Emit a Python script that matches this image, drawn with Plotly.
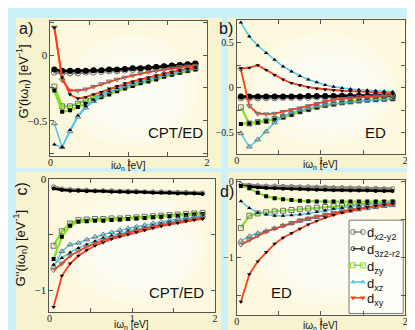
import plotly.graph_objects as go

# Matsubara frequencies [eV]
W = [0.05, 0.15, 0.25, 0.35, 0.45, 0.55, 0.65, 0.75, 0.85, 0.95,
     1.05, 1.15, 1.25, 1.35, 1.45, 1.55, 1.65, 1.75, 1.85]

# a) G'  CPT/ED
a_x2y2 = [-0.13, -0.135, -0.135, -0.135, -0.13, -0.13, -0.125, -0.12, -0.12, -0.115,
          -0.11, -0.105, -0.10, -0.095, -0.09, -0.085, -0.08, -0.075, -0.07]
a_3z2 = [-0.11, -0.12, -0.12, -0.12, -0.12, -0.115, -0.115, -0.11, -0.11, -0.105,
         -0.10, -0.10, -0.095, -0.09, -0.085, -0.08, -0.075, -0.07, -0.065]
a_zy_o = [-0.24, -0.39, -0.39, -0.37, -0.345, -0.32, -0.30, -0.28, -0.26, -0.24,
          -0.22, -0.20, -0.185, -0.17, -0.155, -0.14, -0.125, -0.115, -0.10]
a_zy_f = [-0.27, -0.43, -0.42, -0.395, -0.37, -0.345, -0.32, -0.30, -0.275, -0.255,
          -0.235, -0.215, -0.20, -0.185, -0.165, -0.15, -0.135, -0.12, -0.11]
a_xz_o = [-0.52, -0.70, -0.58, -0.47, -0.40, -0.35, -0.31, -0.28, -0.26, -0.24,
          -0.22, -0.20, -0.185, -0.17, -0.155, -0.14, -0.125, -0.11, -0.10]
a_xz_f = [-0.68, -0.70, -0.57, -0.46, -0.39, -0.34, -0.30, -0.275, -0.25, -0.23,
          -0.21, -0.195, -0.18, -0.165, -0.15, -0.135, -0.12, -0.105, -0.095]
a_xy_o = [0.21, -0.19, -0.27, -0.27, -0.26, -0.24, -0.22, -0.20, -0.185, -0.17,
          -0.155, -0.14, -0.13, -0.12, -0.11, -0.10, -0.09, -0.085, -0.08]
a_xy_f = [0.21, -0.17, -0.30, -0.33, -0.32, -0.30, -0.28, -0.255, -0.235, -0.215,
          -0.20, -0.185, -0.17, -0.155, -0.14, -0.13, -0.115, -0.105, -0.095]

# b) G'  ED
b_x2y2 = [-0.115, -0.115, -0.115, -0.115, -0.115, -0.11, -0.11, -0.11, -0.11, -0.105,
          -0.105, -0.105, -0.10, -0.10, -0.10, -0.10, -0.095, -0.095, -0.095]
b_3z2 = [-0.10, -0.10, -0.10, -0.10, -0.10, -0.10, -0.10, -0.10, -0.095, -0.095,
         -0.095, -0.095, -0.09, -0.09, -0.09, -0.09, -0.085, -0.085, -0.085]
b_zy_o = [-0.22, -0.40, -0.385, -0.37, -0.35, -0.325, -0.295, -0.265, -0.24, -0.215,
          -0.195, -0.18, -0.165, -0.155, -0.145, -0.135, -0.13, -0.125, -0.12]
b_zy_f = [-0.405, -0.40, -0.39, -0.375, -0.355, -0.33, -0.30, -0.27, -0.245, -0.22,
          -0.20, -0.185, -0.17, -0.16, -0.15, -0.14, -0.135, -0.13, -0.125]
b_xz_o = [-0.51, -0.66, -0.58, -0.49, -0.39, -0.32, -0.28, -0.25, -0.23, -0.21,
          -0.195, -0.18, -0.17, -0.16, -0.15, -0.14, -0.135, -0.13, -0.12]
b_xz_f = [0.725, 0.57, 0.47, 0.385, 0.31, 0.235, 0.18, 0.13, 0.09, 0.06,
          0.03, 0.01, -0.005, -0.015, -0.025, -0.03, -0.035, -0.04, -0.045]
b_xy_o = [0.20, -0.205, -0.29, -0.296, -0.29, -0.27, -0.25, -0.23, -0.205, -0.18,
          -0.155, -0.135, -0.125, -0.115, -0.105, -0.10, -0.095, -0.09, -0.085]
b_xy_f = [0.215, 0.22, 0.25, 0.195, 0.14, 0.09, 0.05, 0.025, 0.005, -0.01,
          -0.02, -0.03, -0.035, -0.04, -0.045, -0.05, -0.055, -0.06, -0.065]

# c) G''  CPT/ED
c_x2y2 = [-0.07, -0.09, -0.095, -0.10, -0.10, -0.105, -0.105, -0.105, -0.11, -0.11,
          -0.11, -0.115, -0.115, -0.115, -0.12, -0.12, -0.12, -0.125, -0.125]
c_3z2 = [-0.085, -0.10, -0.105, -0.105, -0.11, -0.11, -0.11, -0.115, -0.115, -0.12,
         -0.12, -0.12, -0.125, -0.125, -0.125, -0.13, -0.13, -0.13, -0.135]
c_zy_o = [-0.60, -0.47, -0.40, -0.37, -0.365, -0.36, -0.36, -0.355, -0.355, -0.35,
          -0.345, -0.34, -0.335, -0.33, -0.325, -0.32, -0.315, -0.31, -0.305]
c_zy_f = [-0.72, -0.52, -0.42, -0.385, -0.38, -0.375, -0.375, -0.37, -0.365, -0.36,
          -0.355, -0.35, -0.345, -0.34, -0.335, -0.33, -0.325, -0.32, -0.315]
c_xz_o = [-0.79, -0.65, -0.59, -0.575, -0.545, -0.52, -0.50, -0.48, -0.46, -0.445,
          -0.43, -0.415, -0.40, -0.385, -0.375, -0.36, -0.35, -0.34, -0.33]
c_xz_f = [-0.77, -0.71, -0.66, -0.62, -0.59, -0.56, -0.53, -0.51, -0.49, -0.47,
          -0.455, -0.44, -0.42, -0.405, -0.39, -0.38, -0.365, -0.355, -0.345]
c_xy_o = [-0.82, -0.76, -0.69, -0.65, -0.61, -0.58, -0.55, -0.53, -0.505, -0.485,
          -0.465, -0.445, -0.43, -0.415, -0.40, -0.385, -0.37, -0.36, -0.35]
c_xy_f = [-1.15, -0.87, -0.76, -0.69, -0.64, -0.60, -0.57, -0.54, -0.52, -0.50,
          -0.48, -0.46, -0.44, -0.425, -0.41, -0.395, -0.38, -0.37, -0.36]

# d) G''  ED
d_x2y2 = [-0.04, -0.05, -0.055, -0.06, -0.06, -0.065, -0.065, -0.07, -0.07, -0.075,
          -0.075, -0.08, -0.08, -0.085, -0.085, -0.09, -0.09, -0.095, -0.095]
d_3z2 = [-0.06, -0.07, -0.08, -0.085, -0.09, -0.095, -0.10, -0.10, -0.105, -0.11,
         -0.11, -0.115, -0.115, -0.12, -0.12, -0.12, -0.125, -0.125, -0.125]
d_zy_o = [-0.61, -0.45, -0.42, -0.405, -0.395, -0.385, -0.375, -0.365, -0.355, -0.345,
          -0.335, -0.325, -0.315, -0.31, -0.30, -0.295, -0.29, -0.285, -0.28]
d_zy_f = [-0.06, -0.09, -0.15, -0.195, -0.22, -0.235, -0.245, -0.255, -0.26, -0.265,
          -0.265, -0.265, -0.265, -0.265, -0.265, -0.265, -0.265, -0.265, -0.265]
d_xz_o = [-0.78, -0.72, -0.68, -0.65, -0.615, -0.58, -0.55, -0.52, -0.495, -0.47,
          -0.445, -0.425, -0.405, -0.385, -0.37, -0.355, -0.34, -0.325, -0.315]
d_xz_f = [-0.26, -0.35, -0.41, -0.435, -0.45, -0.45, -0.445, -0.435, -0.42, -0.40,
          -0.38, -0.36, -0.345, -0.33, -0.315, -0.30, -0.285, -0.275, -0.265]
d_xy_o = [-0.83, -0.77, -0.71, -0.66, -0.62, -0.58, -0.545, -0.51, -0.485, -0.46,
          -0.435, -0.41, -0.39, -0.37, -0.355, -0.34, -0.325, -0.31, -0.30]
d_xy_f = [-1.58, -1.22, -1.05, -0.93, -0.82, -0.74, -0.68, -0.62, -0.565, -0.52,
          -0.475, -0.44, -0.41, -0.385, -0.36, -0.34, -0.32, -0.305, -0.29]

# legend labels
orbitals = ["d<sub>x2-y2</sub>", "d<sub>3z2-r2</sub>", "d<sub>zy</sub>",
            "d<sub>xz</sub>", "d<sub>xy</sub>"]

RED = "#ff3b1a"
GREEN = "#86e028"
CYAN = "#4cc8ef"
GRAY = "#8c8c8c"
SANS = "Liberation Sans"
SERIF = "Liberation Serif"

W_PX, H_PX = 415, 330

def px(x0, x1):
    return [x0 / W_PX, x1 / W_PX]

def py(top, bottom):
    return [1 - bottom / H_PX, 1 - top / H_PX]

fig = go.Figure()

panels = [
    ("x", "y", [a_x2y2, a_3z2, a_zy_o, a_zy_f, a_xz_o, a_xz_f, a_xy_o, a_xy_f], 6),
    ("x2", "y2", [b_x2y2, b_3z2, b_zy_o, b_zy_f, b_xz_o, b_xz_f, b_xy_o, b_xy_f], 6),
    ("x3", "y3", [c_x2y2, c_3z2, c_zy_o, c_zy_f, c_xz_o, c_xz_f, c_xy_o, c_xy_f], 4),
    ("x4", "y4", [d_x2y2, d_3z2, d_zy_o, d_zy_f, d_xz_o, d_xz_f, d_xy_o, d_xy_f], 4),
]

styles = [
    (GRAY, "circle", False, 3),
    ("black", "circle", True, 2.5),
    (GREEN, "square", False, 2.2),
    (GREEN, "square", True, 2.2),
    (CYAN, "triangle-up", False, 1.5),
    (CYAN, "triangle-up", True, 1.5),
    (RED, "triangle-down", False, 1.8),
    (RED, "triangle-down", True, 1.8),
]

for xa, ya, series, csize in panels:
    for (col, sym, filled, lw), ys in zip(styles, series):
        if filled:
            size = csize if sym == "circle" else 4
            mk = dict(symbol=sym, size=size, color="black")
        else:
            size = csize if sym == "circle" else 5
            mk = dict(symbol=sym + "-open", size=size, color="#707070", line=dict(width=1))
        fig.add_trace(go.Scatter(
            x=W, y=ys, xaxis=xa, yaxis=ya, mode="lines+markers",
            line=dict(color=col, width=lw), marker=mk, showlegend=False,
        ))

# hand-made legend inside panel d (axis x5/y5 in pixel units)
LEG = (343, 398, 210, 305)
leg_rows = [222, 239, 256, 273, 289]
leg_style = [(GRAY, "circle-open", "#777", 5), ("#444", "circle-open", "#333", 4),
             (GREEN, "square-open", GREEN, 5), (CYAN, "triangle-up", CYAN, 5),
             (RED, "triangle-down", RED, 5)]
for row, (col, sym, mcol, ms) in zip(leg_rows, leg_style):
    fig.add_trace(go.Scatter(
        x=[347, 357], y=[row, row], xaxis="x5", yaxis="y5", mode="lines+markers",
        line=dict(color=col, width=1.5), marker=dict(symbol=sym, size=ms, color=mcol),
        showlegend=False, cliponaxis=False,
    ))

# panel boxes and plot areas
boxes = [(5, 214, 4, 157), (220, 410, 4, 157), (5, 213, 161, 325), (220, 410, 161, 325)]
areas = [(40, 199, 7, 145), (229, 400, 6, 143), (39, 207, 168, 304), (229, 400, 169, 307)]
shapes = []
for (x0, x1, t, b) in boxes:
    shapes.append(dict(type="rect", xref="paper", yref="paper", layer="below",
                       x0=x0 / W_PX, x1=x1 / W_PX, y0=1 - b / H_PX, y1=1 - t / H_PX,
                       fillcolor="#f8f3cf", line=dict(width=0)))
for (x0, x1, t, b) in areas:
    shapes.append(dict(type="rect", xref="paper", yref="paper", layer="below",
                       x0=x0 / W_PX, x1=x1 / W_PX, y0=1 - b / H_PX, y1=1 - t / H_PX,
                       fillcolor="#fcf9df", line=dict(width=0)))
    for k in range(4):
        ix = (x1 - x0) * (0.1 + 0.08 * k)
        iy = (b - t) * (0.1 + 0.08 * k)
        shapes.append(dict(type="circle", xref="paper", yref="paper", layer="below",
                           x0=(x0 + ix) / W_PX, x1=(x1 - ix * 0.6) / W_PX,
                           y0=1 - (b - iy * 0.7) / H_PX, y1=1 - (t + iy) / H_PX,
                           fillcolor="white", opacity=0.28, line=dict(width=0)))
shapes.append(dict(type="rect", xref="paper", yref="paper", layer="below",
                   x0=LEG[0] / W_PX, x1=LEG[1] / W_PX, y0=1 - LEG[3] / H_PX, y1=1 - LEG[2] / H_PX,
                   fillcolor="#fffef6", line=dict(color="#777", width=1)))

axis_common = dict(showline=True, linecolor="#555", linewidth=1, mirror="ticks",
                   ticks="inside", ticklen=4, tickcolor="#555", showgrid=False,
                   zeroline=False)

def xaxis(dom, anchor, fs):
    d = dict(axis_common)
    d.update(domain=dom, anchor=anchor, range=[0, 2], tickvals=[0, 1, 2],
             ticklabelstandoff=-3,
             minor=dict(tickvals=[0.5, 1.5], ticks="inside", ticklen=4, tickcolor="#555"),
             tickfont=dict(family=SERIF, size=fs, color="#222"))
    return d

def yaxis(dom, anchor, rng, vals, minor, fs):
    d = dict(axis_common)
    d.update(domain=dom, anchor=anchor, range=rng, tickvals=vals,
             minor=dict(tickvals=minor, ticks="inside", ticklen=4, tickcolor="#555"),
             tickfont=dict(family=SERIF, size=fs, color="#222"))
    return d

hidden = dict(visible=False, showgrid=False, zeroline=False)

fig.update_layout(
    width=W_PX, height=H_PX, margin=dict(l=0, r=0, t=0, b=0),
    paper_bgcolor="#cbf1fb", plot_bgcolor="rgba(0,0,0,0)",
    xaxis=xaxis(px(40, 199), "y", 10),
    yaxis=yaxis(py(7, 145), "x", [-0.77, 0.26], [-0.5, 0], [-0.75, -0.25, 0.25], 11),
    xaxis2=xaxis(px(229, 400), "y2", 10),
    yaxis2=yaxis(py(6, 143), "x2", [-0.745, 0.755], [-0.5, 0, 0.5], [-0.25, 0.25], 10),
    xaxis3=xaxis(px(39, 207), "y3", 10),
    yaxis3=yaxis(py(168, 304), "x3", [-1.2, 0.0], [-1, 0], [-0.5], 11),
    xaxis4=xaxis(px(229, 400), "y4", 10),
    yaxis4=yaxis(py(169, 307), "x4", [-1.76, 0.02], [-1, 0], [-1.5, -0.5], 10),
    xaxis5=dict(hidden, domain=px(LEG[0], LEG[1]), range=[LEG[0], LEG[1]], anchor="y5"),
    yaxis5=dict(hidden, domain=py(LEG[2], LEG[3]), range=[LEG[3], LEG[2]], anchor="x5"),
    shapes=shapes,
    showlegend=False,
)

def note(text, x, y, size, angle=0, family=SANS, xanchor="center"):
    fig.add_annotation(text=text, x=x / W_PX, y=1 - y / H_PX, xref="paper", yref="paper",
                       showarrow=False, textangle=angle, xanchor=xanchor, yanchor="middle",
                       borderpad=0, font=dict(family=family, size=size, color="#111"))

for row, label in zip(leg_rows, orbitals):
    note(label, 360, row + 2, 13, xanchor="left")

note("a)", 15, 15, 16)
note("b)", 218, 15, 16)
note("c)", 11, 178, 16, angle=-90)
note("d)", 219, 181, 16)
note("CPT/ED", 167, 121, 15)
note("CPT/ED", 168, 284, 15)
note("ED", 370, 121, 15)
note("ED", 274, 284, 15)
note("G'(iω<sub>n</sub>) [eV<sup>-1</sup>]", 12, 69, 13, angle=-90)
note("G''(iω<sub>n</sub>) [eV<sup>-1</sup>]", 9, 238, 13, angle=-90)
note("iω<sub>n</sub> [eV]", 119, 155, 10)
note("iω<sub>n</sub> [eV]", 314, 154, 10)
note("iω<sub>n</sub> [eV]", 122, 317, 10)
note("iω<sub>n</sub> [eV]", 314, 318, 10)

fig.write_html("out.html")
